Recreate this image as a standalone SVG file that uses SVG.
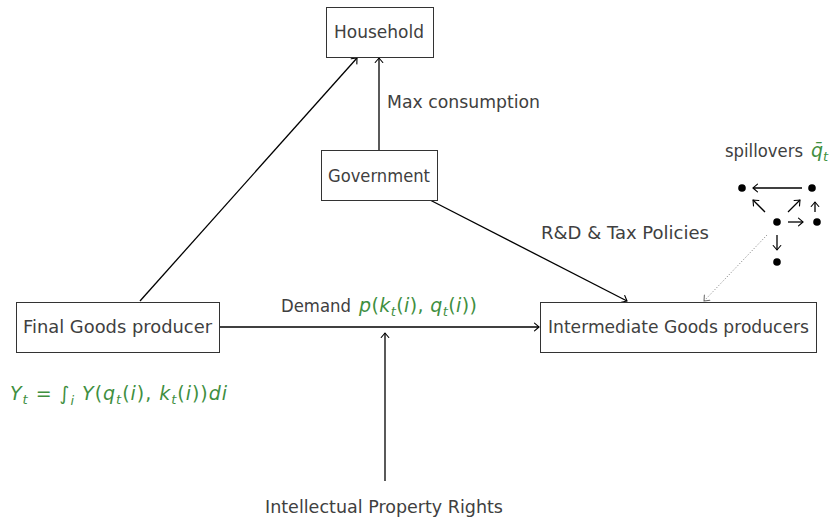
<svg xmlns="http://www.w3.org/2000/svg" width="834" height="519" viewBox="0 0 834 519">
  <defs>
    <style>
      .box { fill: #ffffff; stroke: #333333; stroke-width: 1; }
      .lbl { font-family: "DejaVu Sans", "Liberation Sans", sans-serif; font-size: 17.5px; fill: #404040; }
      .math { font-family: "DejaVu Sans", "Liberation Sans", sans-serif; font-size: 19px; fill: #3f8f3f; font-style: italic; }
      .up { font-style: normal; }
      .sub { font-size: 13px; }
      .edge { fill: none; stroke: #000000; stroke-width: 1.3; marker-end: url(#tip); }
      .dot { fill: #000000; }
      .dotted { fill: none; stroke: #777777; stroke-width: 1; stroke-dasharray: 1 2; marker-end: url(#tipGray); }
    </style>
    <marker id="tip" markerUnits="userSpaceOnUse" markerWidth="12" markerHeight="12" viewBox="-6 -6 12 12" refX="0" refY="0" orient="auto">
      <path d="M -4.5 -3.8 Q -1.2 -1 0 0 Q -1.2 1 -4.5 3.8" fill="none" stroke="#000000" stroke-width="1.1" stroke-linecap="round"/>
    </marker>
    <marker id="tipGray" markerUnits="userSpaceOnUse" markerWidth="12" markerHeight="12" viewBox="-6 -6 12 12" refX="0" refY="0" orient="auto">
      <path d="M -4.5 -3.8 Q -1.2 -1 0 0 Q -1.2 1 -4.5 3.8" fill="none" stroke="#666666" stroke-width="1" stroke-linecap="round"/>
    </marker>
  </defs>

  <rect width="834" height="519" fill="#ffffff"/>

  <!-- connectors -->
  <g id="connectors">
    <line class="edge" x1="140" y1="301" x2="357" y2="58"/>
    <line class="edge" x1="379" y1="150" x2="379" y2="58"/>
    <line class="edge" x1="430" y1="200" x2="627" y2="301"/>
    <line class="edge" x1="219" y1="327" x2="539" y2="327"/>
    <line class="edge" x1="385" y1="481" x2="385" y2="333"/>
    <line class="dotted" x1="767" y1="235" x2="704" y2="301"/>
  </g>

  <!-- nodes -->
  <g id="household">
    <rect class="box" x="326.5" y="7.5" width="107" height="50"/>
    <text class="lbl" x="379" y="38" text-anchor="middle" textLength="90" lengthAdjust="spacingAndGlyphs">Household</text>
  </g>

  <g id="government">
    <rect class="box" x="321.5" y="150.5" width="116" height="50"/>
    <text class="lbl" x="379" y="182" text-anchor="middle" textLength="102" lengthAdjust="spacingAndGlyphs">Government</text>
  </g>

  <g id="final-goods">
    <rect class="box" x="16.5" y="302.5" width="203" height="50"/>
    <text class="lbl" x="117.5" y="333" text-anchor="middle" textLength="189" lengthAdjust="spacingAndGlyphs">Final Goods producer</text>
  </g>

  <g id="intermediate-goods">
    <rect class="box" x="540.5" y="302.5" width="276" height="50"/>
    <text class="lbl" x="678.5" y="333" text-anchor="middle" textLength="261" lengthAdjust="spacingAndGlyphs">Intermediate Goods producers</text>
  </g>

  <!-- edge labels -->
  <g id="labels">
    <text class="lbl" x="387" y="108" textLength="153" lengthAdjust="spacingAndGlyphs">Max consumption</text>
    <text class="lbl" x="541" y="239" textLength="168" lengthAdjust="spacingAndGlyphs">R&amp;D &amp; Tax Policies</text>
    <text class="lbl" x="281" y="312" textLength="70" lengthAdjust="spacingAndGlyphs">Demand</text>
    <text class="math" x="359" y="312" textLength="118" lengthAdjust="spacing">p<tspan class="up">(</tspan>k<tspan class="sub" dy="4">t</tspan><tspan class="up" dy="-4">(</tspan>i<tspan class="up">),</tspan> q<tspan class="sub" dy="4">t</tspan><tspan class="up" dy="-4">(</tspan>i<tspan class="up">))</tspan></text>
    <text class="lbl" x="384" y="513" text-anchor="middle" textLength="238" lengthAdjust="spacingAndGlyphs">Intellectual Property Rights</text>
    <text class="math" x="10" y="400" textLength="217" lengthAdjust="spacing">Y<tspan class="sub" dy="4">t</tspan><tspan class="up" dy="-4"> = ∫</tspan><tspan class="sub" dy="5">i</tspan><tspan dy="-5">  Y</tspan><tspan class="up">(</tspan>q<tspan class="sub" dy="4">t</tspan><tspan class="up" dy="-4">(</tspan>i<tspan class="up">),</tspan> k<tspan class="sub" dy="4">t</tspan><tspan class="up" dy="-4">(</tspan>i<tspan class="up">))</tspan>di</text>
    <text class="lbl" x="725" y="157" textLength="78" lengthAdjust="spacingAndGlyphs">spillovers</text>
    <text class="math" x="811" y="157">q̄<tspan class="sub" dy="4">t</tspan></text>
  </g>

  <!-- spillover network -->
  <g id="spillovers">
    <circle class="dot" cx="742" cy="188" r="3.8"/>
    <circle class="dot" cx="812" cy="188" r="3.8"/>
    <circle class="dot" cx="777" cy="222" r="3.8"/>
    <circle class="dot" cx="817" cy="222" r="3.8"/>
    <circle class="dot" cx="777" cy="262" r="3.8"/>
    <line class="edge" x1="802" y1="188" x2="753" y2="188"/>
    <line class="edge" x1="765" y1="212" x2="753" y2="200"/>
    <line class="edge" x1="788" y1="212" x2="800" y2="200"/>
    <line class="edge" x1="815" y1="212" x2="815" y2="202"/>
    <line class="edge" x1="788" y1="222" x2="803" y2="222"/>
    <line class="edge" x1="777" y1="235" x2="777" y2="250"/>
  </g>
</svg>
